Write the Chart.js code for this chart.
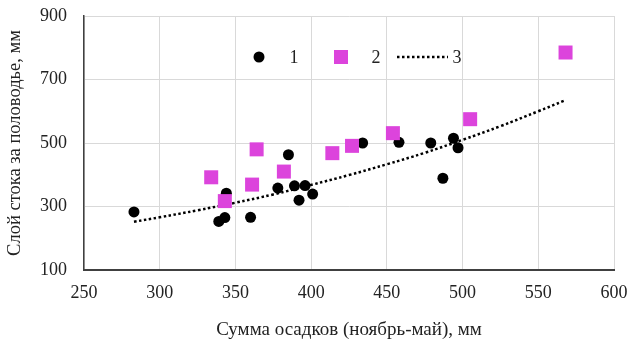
<!DOCTYPE html>
<html>
<head>
<meta charset="utf-8">
<script src="https://cdn.jsdelivr.net/npm/chart.js@4"></script>
<style>
  html, body { margin: 0; padding: 0; background: #fff; }
  #wrap { width: 630px; height: 341px; }
</style>
</head>
<body>
<div id="wrap"><canvas id="chart"></canvas></div>
<script>
// series 1: black circles (precip, runoff)
const precip1 = [283, 339, 343, 344, 360, 378, 385, 389, 392, 396, 401, 434, 458, 479, 487, 494, 497];
const runoff1 = [283, 253, 265, 342, 266, 358, 463, 365, 320, 366, 339, 500, 502, 500, 389, 515, 485];
// series 2: magenta squares
const precip2 = [334, 343, 361, 364, 382, 414, 427, 454, 505, 568];
const runoff2 = [392, 317, 369, 480, 410, 468, 491, 531, 575, 785];
// series 3: trend line
const trendX = [283, 300, 325, 350, 375, 400, 425, 450, 475, 500, 525, 550, 567];
const trendY = [252, 266, 288, 312, 338, 368, 399, 433, 469, 510, 553, 600, 633];
const xTicks = [250, 300, 350, 400, 450, 500, 550, 600];
const yTicks = [100, 300, 500, 700, 900];
const legendLabels = ["1", "2", "3"];

const toPts = (xs, ys) => xs.map((x, i) => ({ x, y: ys[i] }));
const serif = "'Liberation Serif', 'DejaVu Serif', serif";
const magenta = "#dc44dc";

const legendPlugin = {
    id: "inlineLegend",
    afterDatasetsDraw(chart) {
        const ctx = chart.ctx;
        ctx.save();
        const y = 57;
        ctx.fillStyle = "#000";
        ctx.beginPath();
        ctx.arc(259, y, 5.5, 0, Math.PI * 2);
        ctx.fill();
        ctx.fillStyle = magenta;
        ctx.fillRect(334, y - 7, 14, 14);
        ctx.strokeStyle = "#000";
        ctx.lineWidth = 2.5;
        ctx.setLineDash([2.5, 2.5]);
        ctx.beginPath();
        ctx.moveTo(397, y);
        ctx.lineTo(448, y);
        ctx.stroke();
        ctx.setLineDash([]);
        ctx.fillStyle = "#222";
        ctx.font = "18px " + serif;
        ctx.textBaseline = "middle";
        ctx.textAlign = "center";
        ctx.fillText(legendLabels[0], 294, y + 1);
        ctx.fillText(legendLabels[1], 376, y + 1);
        ctx.fillText(legendLabels[2], 457, y + 1);
        ctx.restore();
    },
};

const ctx = document.getElementById("chart").getContext("2d");
const chart = new Chart(ctx, {
    type: "scatter",
    data: {
        datasets: [
            {
                label: "2",
                data: toPts(precip2, runoff2),
                pointStyle: "rect",
                pointRadius: 9.9,
                pointHoverRadius: 9.9,
                backgroundColor: magenta,
                borderWidth: 0,
                order: 0,
            },
            {
                label: "1",
                data: toPts(precip1, runoff1),
                pointStyle: "circle",
                pointRadius: 5.5,
                pointHoverRadius: 5.5,
                backgroundColor: "#000",
                borderWidth: 0,
                order: 1,
            },
            {
                label: "3",
                type: "line",
                data: toPts(trendX, trendY),
                borderColor: "#000",
                borderWidth: 2.5,
                borderDash: [2.5, 2.5],
                pointRadius: 0,
                tension: 0.4,
                fill: false,
                order: 2,
            },
        ],
    },
    options: {
        responsive: true,
        maintainAspectRatio: false,
        animation: false,
        layout: { padding: { top: 16, right: 16, left: 0, bottom: 0 } },
        scales: {
            x: {
                type: "linear",
                min: 250,
                max: 600,
                afterBuildTicks: (s) => { s.ticks = xTicks.map((v) => ({ value: v })); },
                afterFit: (s) => {
                    s.height = 71;
                    s.paddingLeft = 0;
                    s.paddingRight = 0;
                },
                grid: { color: "#d9d9d9", lineWidth: 1, drawTicks: false },
                border: { color: "#404040", width: 2 },
                ticks: { color: "#222", padding: 12, maxRotation: 0, font: { family: serif, size: 18 } },
                title: {
                    display: true,
                    text: "Сумма осадков (ноябрь-май), мм",
                    color: "#222",
                    padding: { top: 0, bottom: 0 },
                    font: { family: serif, size: 19 },
                },
            },
            y: {
                min: 100,
                max: 900,
                afterBuildTicks: (s) => { s.ticks = yTicks.map((v) => ({ value: v })); },
                afterFit: (s) => {
                    s.width = 84;
                    s.paddingTop = 0;
                    s.paddingBottom = 0;
                },
                grid: { color: "#d9d9d9", lineWidth: 1, drawTicks: false },
                border: { color: "#404040", width: 1.5 },
                ticks: { color: "#222", padding: 17, font: { family: serif, size: 18 } },
                title: {
                    display: true,
                    text: "Слой стока за половодье, мм",
                    color: "#222",
                    padding: { top: 4, bottom: 4 },
                    font: { family: serif, size: 18.5 },
                },
            },
        },
        plugins: {
            legend: { display: false },
            tooltip: { enabled: false },
        },
    },
    plugins: [legendPlugin],
});
</script>
</body>
</html>
